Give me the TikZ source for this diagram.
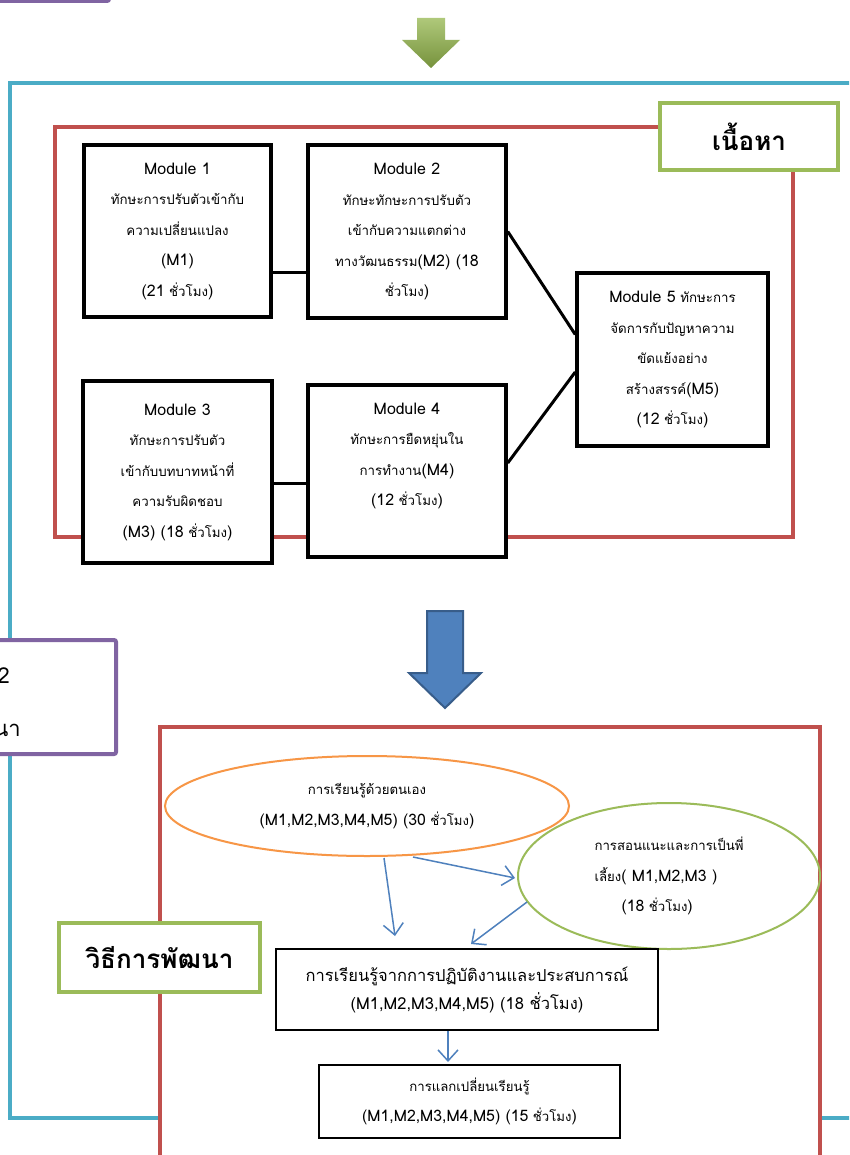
\documentclass[tikz,border=0pt]{standalone}
\usepackage{fontspec}
\setmainfont[Script=Thai]{Loma}
\newfontfamily\latf[Script=Thai,Scale=1.2]{Loma}
\newcommand\latn[1]{{\latf #1}}
\usetikzlibrary{arrows.meta,shapes.geometric,calc}
\definecolor{cyanf}{HTML}{4BACC6}
\definecolor{redf}{HTML}{C0504D}
\definecolor{greenf}{HTML}{9BBB59}
\definecolor{greendk}{HTML}{76923C}
\definecolor{purplef}{HTML}{8064A2}
\definecolor{bluef}{HTML}{4F81BD}
\definecolor{bluedk}{HTML}{385D8A}
\definecolor{orangef}{HTML}{F79646}
\newcommand\mfnt{\fontsize{13.3}{30.5}\selectfont}
\newcommand\efnt{\fontsize{13.2}{30.5}\selectfont}
\newcommand\afnt{\fontsize{16.5}{28}\selectfont}
\newcommand\lfnt{\fontsize{26}{30}\selectfont\bfseries}
\newcommand\pfnt{\fontsize{22}{30}\selectfont}
\begin{document}
\begin{tikzpicture}[x=1pt,y=-1pt,
  modbox/.style={draw=black, line width=3.5pt, fill=white, align=center, inner sep=0pt, font=\mfnt},
  conn/.style={line width=3pt, draw=black},
  lblbox/.style={draw=greenf, line width=4pt, fill=white, font=\lfnt, inner sep=0pt},
  barrow/.style={draw=bluef, line width=1.5pt, -{Straight Barb[length=11pt,width=20pt]}},
  tbox/.style={draw=black, line width=2pt, fill=white, align=center, inner sep=0pt},
]
\useasboundingbox (0,0) rectangle (849,1155);
\clip (0,0) rectangle (849,1155);
\fill[white] (0,0) rectangle (849,1155);

% top purple fragment
\draw[purplef, line width=4pt, rounded corners=2pt] (-10,-60) rectangle (109,1);

% green arrow
\shade[top color=greenf!80!white, bottom color=greendk, draw=none]
  (417,18) -- (445,18) -- (445,40) -- (460,40) -- (431,68) -- (402,40) -- (417,40) -- cycle;

% outer cyan frame
\draw[cyanf, line width=4.5pt] (10,83) rectangle (920,1118);

% upper red frame
\draw[redf, line width=4pt] (55,127) rectangle (793,537);

% content label
\node[lblbox, minimum width=178pt, minimum height=67pt] (lblc) at (749,136.5) {เนื้อหา};

% modules
\node[modbox, minimum width=187pt, minimum height=172pt] (m1) at (177.5,231)
  {\latn{Module 1}\\ทักษะการปรับตัวเข้ากับ\\ความเปลี่ยนแปลง\\\latn{(M1)}\\\latn{(21} ชั่วโมง\latn{)}};
\node[modbox, minimum width=198pt, minimum height=173pt] (m2) at (407,231.5)
  {\latn{Module 2}\\ทักษะทักษะการปรับตัว\\เข้ากับความแตกต่าง\\ทางวัฒนธรรม\latn{(M2) (18}\\ชั่วโมง\latn{)}};
\node[modbox, minimum width=191pt, minimum height=173pt] (m5) at (672.5,359.5)
  {\latn{Module 5} ทักษะการ\\จัดการกับปัญหาความ\\ขัดแย้งอย่าง\\สร้างสรรค์\latn{(M5)}\\\latn{(12} ชั่วโมง\latn{)}};
\node[modbox, minimum width=189pt, minimum height=182pt] (m3) at (177.5,472)
  {\latn{Module 3}\\ทักษะการปรับตัว\\เข้ากับบทบาทหน้าที่\\ความรับผิดชอบ\\\latn{(M3) (18} ชั่วโมง\latn{)}};
\node[modbox, minimum width=198pt, minimum height=172pt] (m4) at (407,471) {};
\node[align=center, font=\mfnt, inner sep=0pt] (m4t) at (407,456)
  {\latn{Module 4}\\ทักษะการยืดหยุ่นใน\\การทำงาน\latn{(M4)}\\\latn{(12} ชั่วโมง\latn{)}};

\draw[conn] ([yshift=-42pt]m1.east) -- ([yshift=-42pt]m1.east -| m2.west);
\draw[conn] ([yshift=-11pt]m3.east) -- ([yshift=-11pt]m3.east -| m4.west);
\draw[conn] (m2.east) -- ([yshift=25pt]m5.west);
\draw[conn] ([yshift=8pt]m4.east) -- ([yshift=-12.5pt]m5.west);

% blue arrow
\draw[fill=bluef, draw=bluedk, line width=2pt, line join=miter]
  (427,611) -- (463,611) -- (463,673) -- (481,673) -- (445,708) -- (409,673) -- (427,673) -- cycle;

% purple middle box
\draw[purplef, line width=4pt, fill=white, rounded corners=2pt] (-60,640) rectangle (116,754);
\node[font=\pfnt, anchor=east, inner sep=0pt] (p2) at (10,676) {2};
\node[font=\pfnt, anchor=east, inner sep=0pt] (pna) at (21,730) {นา};

% lower red frame
\draw[redf, line width=4pt, fill=white] (160,727) rectangle (820,1220);

% method label
\node[lblbox, minimum width=201pt, minimum height=69pt] (lblm) at (159.5,957.5) {วิธีการพัฒนา};

% ellipses
\node[ellipse, draw=orangef, line width=2pt, minimum width=404pt, minimum height=100pt,
  align=center, font=\efnt, inner sep=0pt] (oe) at (367,806)
  {การเรียนรู้ด้วยตนเอง\\\latn{(M1,M2,M3,M4,M5) (30} ชั่วโมง\latn{)}};
\node[ellipse, draw=greenf, line width=2pt, minimum width=302pt, minimum height=146pt,
  align=left, font=\efnt, inner sep=0pt] (ge) at (669,876)
  {การสอนแนะและการเป็นพี่\\เลี้ยง\latn{( M1,M2,M3 )}\\\hspace*{27pt}\latn{(18} ชั่วโมง\latn{)}};

% boxes
\node[tbox, font=\afnt, minimum width=382pt, minimum height=81pt] (pa) at (467,989.5)
  {การเรียนรู้จากการปฏิบัติงานและประสบการณ์\\(M1,M2,M3,M4,M5) (18 ชั่วโมง)};
\node[tbox, font=\efnt, minimum width=301pt, minimum height=73pt] (pb) at (469.5,1101.5)
  {การแลกเปลี่ยนเรียนรู้\\\latn{(M1,M2,M3,M4,M5) (15} ชั่วโมง\latn{)}};

% arrows
\coordinate (a1s) at ($(oe.center)+(17,52)$);
\coordinate (a1e) at ($(pa.north)+(-72,-12)$);
\draw[barrow] (a1s) -- (a1e);
\coordinate (a2s) at ($(oe.center)+(46,51)$);
\draw[barrow] (a2s) -- ([xshift=-2pt,yshift=-2pt]ge.west);
\coordinate (a3s) at ($(ge.center)+(-142,26)$);
\draw[barrow] (a3s) -- ([xshift=4pt,yshift=4pt]pa.north);
\draw[barrow] ([xshift=-19pt]pa.south) -- ([xshift=-19pt,yshift=2pt]pa.south |- pb.north);
\end{tikzpicture}
\end{document}
